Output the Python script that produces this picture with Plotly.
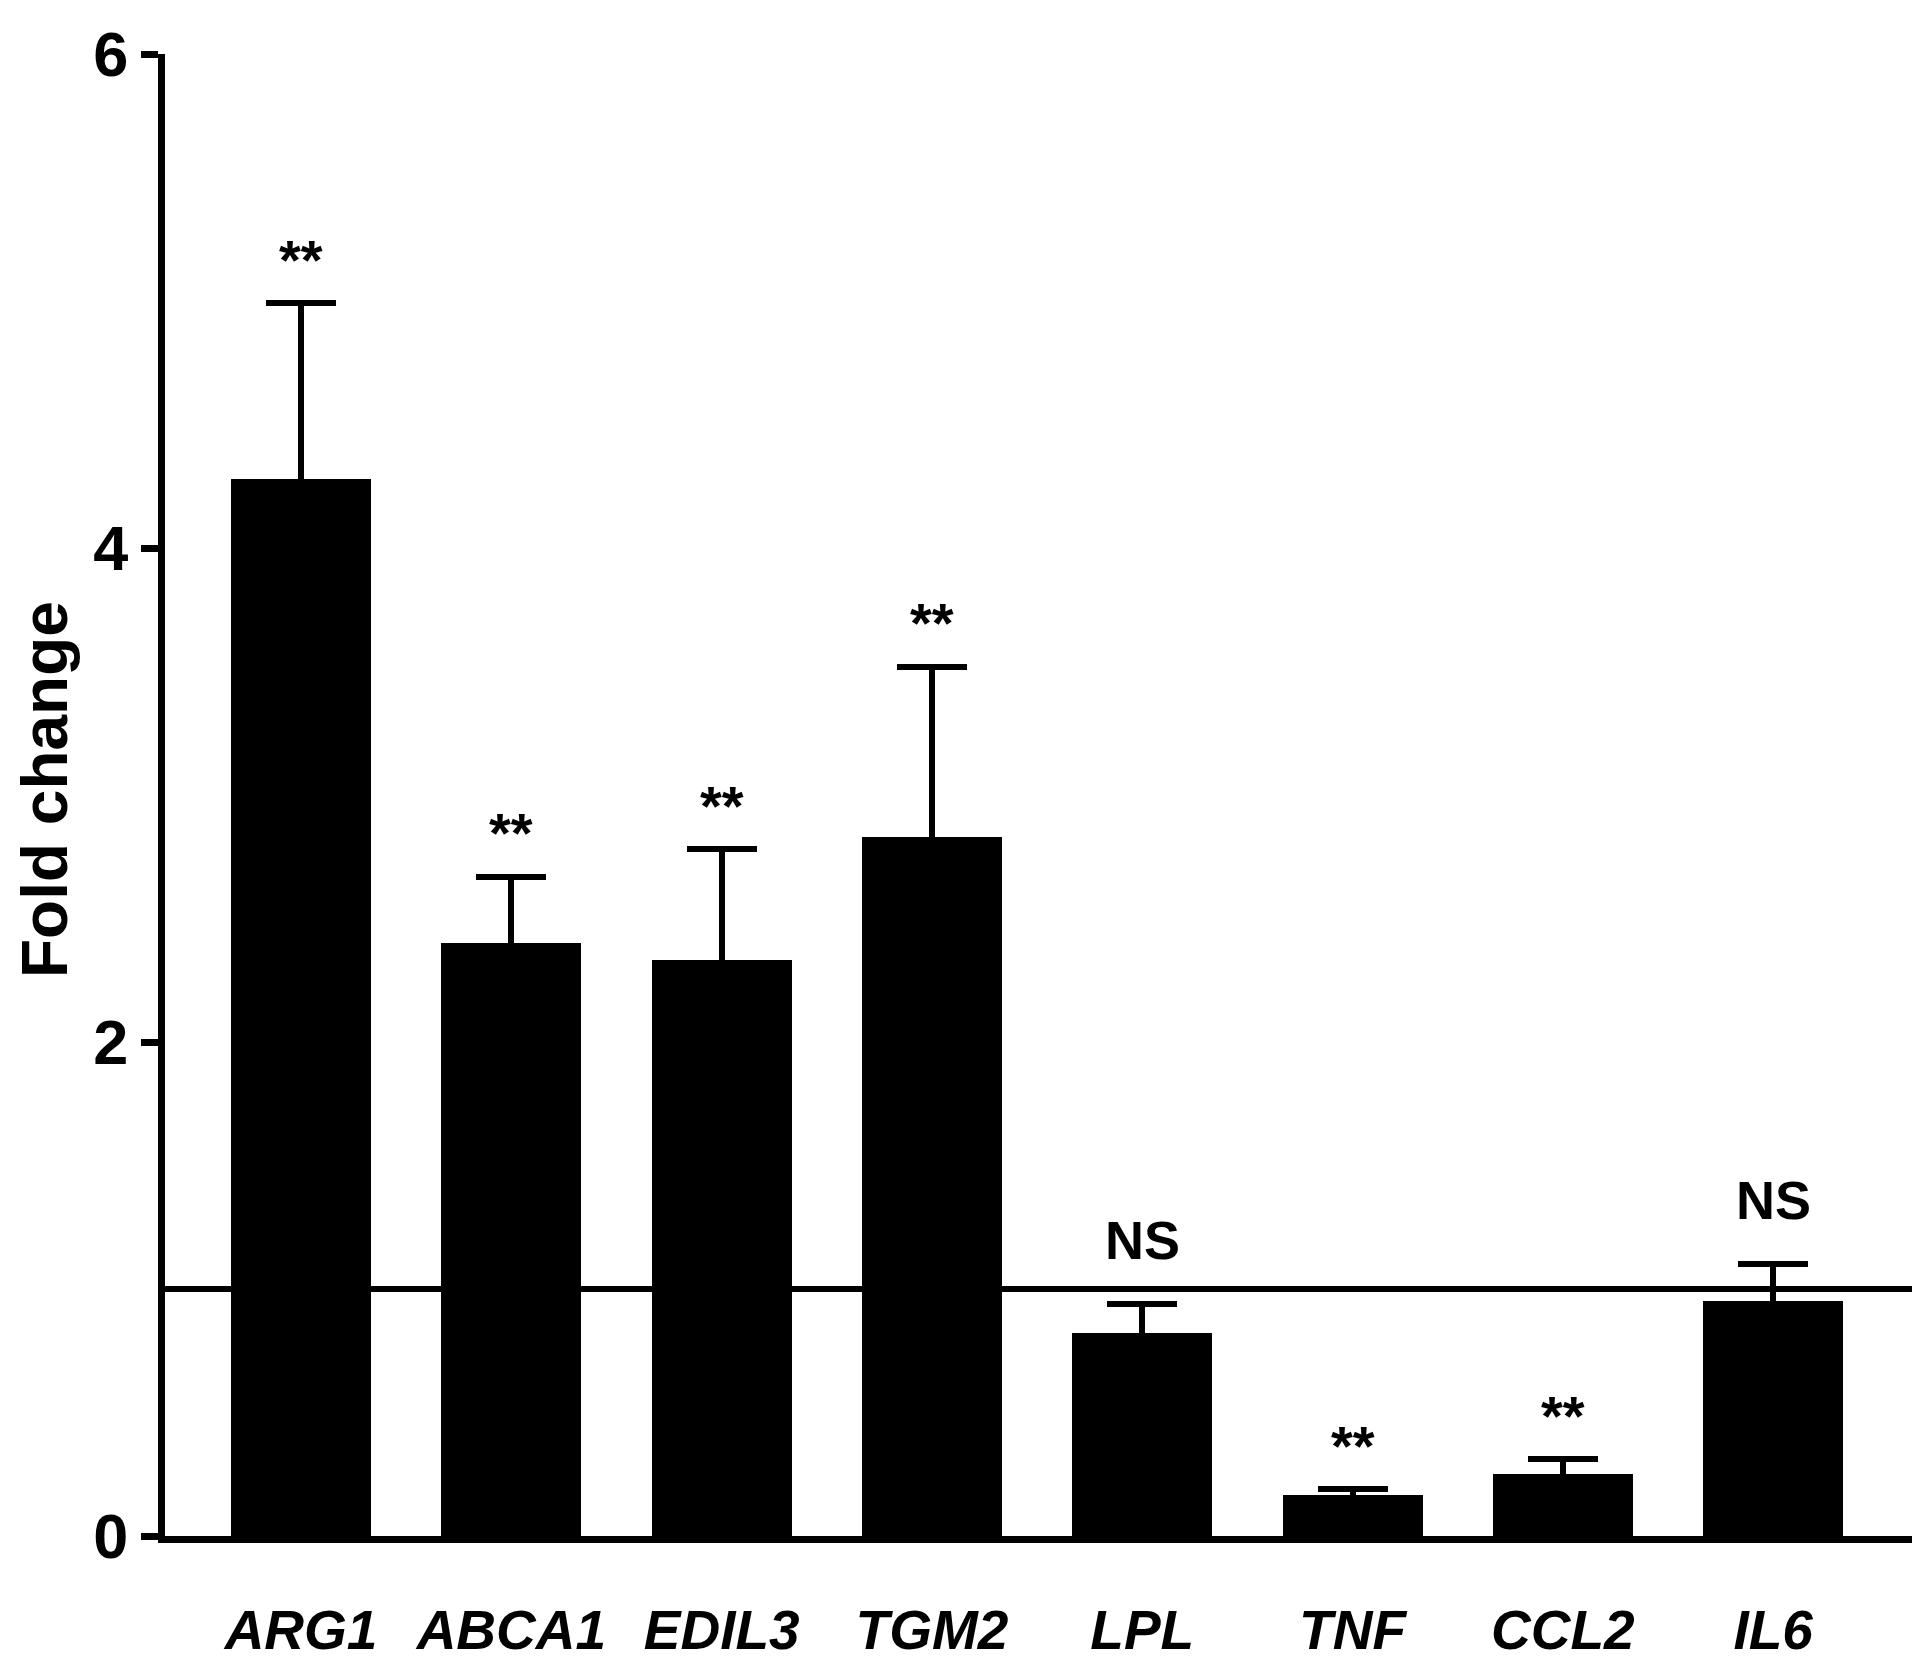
import plotly.graph_objects as go

genes = ["ARG1", "ABCA1", "EDIL3", "TGM2", "LPL", "TNF", "CCL2", "IL6"]
fold_change = [4.28, 2.40, 2.33, 2.83, 0.82, 0.165, 0.25, 0.95]
sem = [0.71, 0.27, 0.45, 0.69, 0.12, 0.025, 0.06, 0.15]
significance = ["**", "**", "**", "**", "NS", "**", "**", "NS"]
y_ticks = [0, 2, 4, 6]
baseline = 1.0

FONT = "Liberation Sans, Arial, sans-serif"

fig = go.Figure()
fig.add_trace(go.Bar(
    x=list(range(len(genes))),
    y=fold_change,
    width=0.666,
    marker=dict(color="black", line=dict(width=0)),
    error_y=dict(type="data", array=sem, symmetric=True,
                 color="black", thickness=6, width=35),
    showlegend=False,
))

fig.add_shape(type="line", xref="paper", yref="y", x0=0, x1=1,
              y0=baseline, y1=baseline, line=dict(color="black", width=6))

for i, (v, e, s) in enumerate(zip(fold_change, sem, significance)):
    fig.add_annotation(
        x=i, y=v + e, xref="x", yref="y", text=s, showarrow=False,
        yanchor="middle", yshift=(64 if s == "NS" else 44),
        font=dict(family=FONT, size=(54 if s == "NS" else 56), color="black", weight="bold"),
    )

fig.add_annotation(
    x=0, y=0.5, xref="paper", yref="paper", text="Fold change", showarrow=False,
    textangle=-90, xanchor="center", yanchor="middle", xshift=-120, yshift=5,
    font=dict(family=FONT, size=64, color="black", weight="bold"),
)

fig.update_layout(
    width=1920, height=1664,
    margin=dict(l=157, r=11, t=32, b=105),
    plot_bgcolor="white", paper_bgcolor="white",
    bargap=0,
)
fig.update_xaxes(
    range=[-0.647, 7.684],
    tickmode="array", tickvals=list(range(len(genes))), ticktext=genes,
    showline=True, linecolor="black", linewidth=7,
    ticks="", showgrid=False, zeroline=False,
    tickfont=dict(family=FONT, size=55, color="black", weight="bold", style="italic"),
    ticklabelstandoff=40, ticklabeloverflow="allow",
)
fig.update_yaxes(
    range=[0, 6],
    tickmode="array", tickvals=y_ticks,
    showline=True, linecolor="black", linewidth=7,
    ticks="outside", ticklen=17, tickwidth=7, tickcolor="black",
    showgrid=False, zeroline=False, ticklabeloverflow="allow",
    tickfont=dict(family=FONT, size=63, color="black", weight="bold"),
)

fig.write_html("out.html")
